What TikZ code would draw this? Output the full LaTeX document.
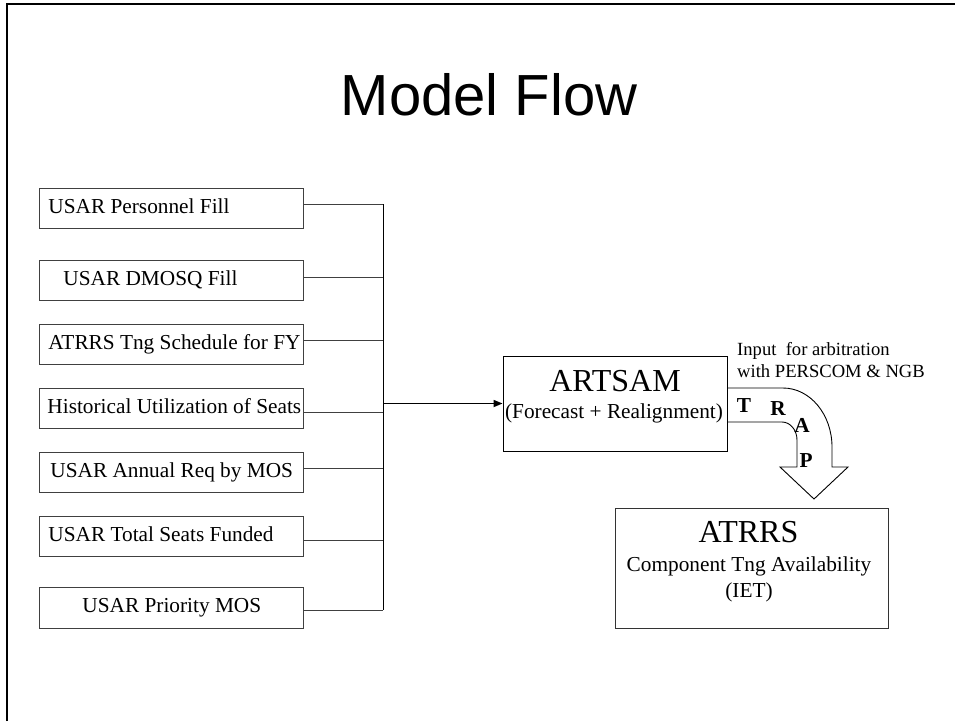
\documentclass[tikz,border=0pt]{standalone}
\usepackage{fontspec}
\setmainfont{Liberation Serif}
\newfontfamily\arialfont{Liberation Sans}
\usetikzlibrary{arrows.meta,calc}
\begin{document}
\begin{tikzpicture}[x=1pt,y=-1pt,
  inbox/.style={draw=black!75, line width=0.9pt, minimum width=264pt, minimum height=40pt,
    inner xsep=0pt, inner ysep=0pt, text height=14pt, text depth=4.5pt,
    font=\fontsize{21.3}{25}\selectfont, anchor=north west},
  wire/.style={draw=black!75, line width=0.9pt},
  txt/.style={font=\fontsize{21.3}{25}\selectfont, anchor=base, inner sep=0pt},
  bigtxt/.style={font=\fontsize{32}{34}\selectfont, anchor=base, inner sep=0pt},
  smalltxt/.style={font=\fontsize{18.6}{22}\selectfont, anchor=base west, inner sep=0pt},
  traptxt/.style={font=\bfseries\fontsize{21.3}{25}\selectfont, anchor=base, inner sep=0pt},
  bigbox/.style={draw, line width=0.9pt, inner sep=0pt}]
\useasboundingbox (0,0) rectangle (955,721);

% frame
\draw[line width=2pt] (7,721) -- (7,4.3) -- (955,4.3);

% title
\node[font=\arialfont\fontsize{58}{60}\selectfont, anchor=base, inner sep=0pt] (title) at (489,115) {Model Flow};

% input boxes
\node[inbox] (b1) at (39,188) {\makebox[264pt][l]{\hspace{9pt}USAR Personnel Fill}};
\node[inbox] (b2) at (39,260) {\makebox[264pt][l]{\hspace{24pt}USAR DMOSQ Fill}};
\node[inbox] (b3) at (39,324) {\makebox[264pt][l]{\hspace{9pt}ATRRS Tng Schedule for FY}};
\node[inbox] (b4) at (39,388) {\makebox[264pt][l]{\hspace{8pt}Historical Utilization of Seats}};
\node[inbox] (b5) at (39,452) {\makebox[264pt][l]{\hspace{11pt}USAR Annual Req by MOS}};
\node[inbox] (b6) at (39,516) {\makebox[264pt][l]{\hspace{9pt}USAR Total Seats Funded}};
\node[inbox, minimum height=41pt] (b7) at (39,587) {\makebox[264pt][l]{\hspace{43pt}USAR Priority MOS}};

% bus
\coordinate (bus) at (383,0);
\foreach \b/\d in {b1/4,b2/3.5,b3/4,b4/-4,b5/4,b6/-4,b7/-2.5}{
  \coordinate (\b w) at ([yshift=\d pt]\b.east);
  \draw[wire] (\b w) -- (\b w -| bus);
}
\draw[draw=black, line width=0.9pt] (b1w -| bus) -- (b7w -| bus);

% ARTSAM
\node[bigbox, minimum width=224pt, minimum height=95pt] (art) at (615,403.5) {};
\node[bigtxt] (artname) at ($(art.north)+(0,36)$) {ARTSAM};
\node[txt] (artsub) at ($(art.north)+(-1,63)$) {(Forecast + Realignment)};

\draw[line width=1.6pt, -{Triangle[length=9pt,width=7pt]}] (art.west -| bus) -- (art.west);

% ATRRS
\node[bigbox, draw=black!80, minimum width=273pt, minimum height=120pt] (atrrs) at (751.5,568) {};
\node[bigtxt] (atrrsname) at ($(atrrs.north)+(-3,35)$) {ATRRS};
\node[txt] (atrrssub) at ($(atrrs.north)+(-2.5,64)$) {Component Tng Availability};
\node[txt] (atrrsiet) at ($(atrrs.north)+(-2.5,90)$) {(IET)};

% input label
\node[smalltxt] (inp1) at (737,355) {Input~ for arbitration};
\node[smalltxt] (inp2) at (737,377) {with PERSCOM \& NGB};

% TRAP arrow
\coordinate (trapA) at ($(art.east)+(0,-15.5)$);
\coordinate (trapB) at ($(art.east)+(0,18.5)$);
\draw[line width=0.9pt, line join=miter]
  (trapA) -- (783,388) arc[start angle=-90, end angle=0, x radius=49, y radius=59]
  -- (832,467) -- (848,467) -- (814,499) -- (780,467) -- (797,467) -- (797,440)
  arc[start angle=0, end angle=-90, x radius=15, y radius=18] -- (trapB);
\node[traptxt] (lT) at (744,412) {T};
\node[traptxt] (lR) at (778,415) {R};
\node[traptxt] (lA) at (802,432) {A};
\node[traptxt] (lP) at (806,467) {P};
\end{tikzpicture}
\end{document}
